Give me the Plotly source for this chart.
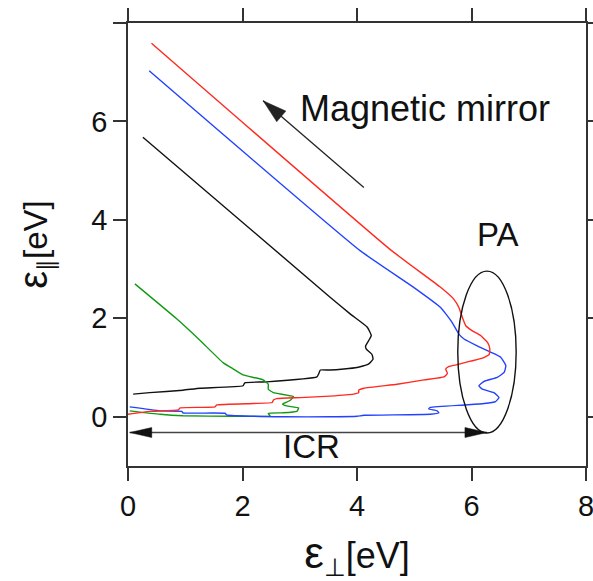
import math
import plotly.graph_objects as go

# Electron trajectories in (perpendicular, parallel) energy space, in eV
red_x = [0.41, 4.61, 5.46, 5.69, 5.78, 5.84, 5.90, 6.01, 6.16, 6.28, 6.32, 6.31, 6.19, 5.98, 5.75, 5.60, 5.55,
         5.58, 5.52, 5.17, 4.70, 4.12, 4.03, 4.03, 3.94, 3.53, 3.01, 2.60, 2.54, 2.52, 2.19, 1.55, 1.52, 0.91,
         0.88, 0.38, 0.0]
red_y = [7.59, 3.37, 2.63, 2.39, 2.22, 2.02, 1.85, 1.75, 1.65, 1.51, 1.38, 1.27, 1.19, 1.13, 1.06, 1.02, 0.97,
         0.88, 0.81, 0.75, 0.66, 0.58, 0.54, 0.49, 0.46, 0.42, 0.39, 0.37, 0.34, 0.29, 0.27, 0.24, 0.20, 0.18,
         0.14, 0.11, 0.05]

blue_x = [0.37, 4.06, 4.99, 5.46, 5.66, 5.78, 5.87, 6.10, 6.34, 6.51, 6.60, 6.57, 6.45, 6.22, 6.13, 6.19, 6.39,
          6.48, 6.42, 6.22, 5.87, 5.28, 5.25, 5.40, 5.43, 5.28, 4.12, 4.00, 3.53, 2.72, 1.72, 1.70, 0.96, 0.94,
          0.56, 0.03]
blue_y = [7.03, 3.37, 2.63, 2.22, 1.92, 1.68, 1.58, 1.44, 1.31, 1.21, 1.04, 0.90, 0.80, 0.72, 0.63, 0.56, 0.49,
          0.39, 0.31, 0.27, 0.24, 0.19, 0.16, 0.12, 0.08, 0.05, 0.03, 0.01, 0.0, 0.0, 0.04, 0.07, 0.08, 0.11,
          0.12, 0.20]

black_x = [0.26, 3.53, 3.88, 4.18, 4.25, 4.22, 4.15, 4.16, 4.26, 4.28, 4.20, 4.00, 3.77, 3.53, 3.36, 3.33, 3.30,
           2.42, 2.04, 2.01, 1.26, 0.96, 0.38, 0.09]
black_y = [5.68, 2.43, 2.09, 1.82, 1.65, 1.58, 1.44, 1.38, 1.27, 1.17, 1.07, 1.00, 0.97, 0.95, 0.95, 0.87, 0.81,
           0.71, 0.69, 0.63, 0.58, 0.54, 0.49, 0.46]

green_x = [0.12, 0.85, 1.26, 1.66, 1.84, 2.01, 2.36, 2.45, 2.45, 2.54, 2.89, 2.83, 2.70, 2.77, 2.98, 2.95, 2.69,
           2.45, 2.48, 1.84, 0.96, 0.56, 0.03]
green_y = [2.70, 1.99, 1.55, 1.10, 0.97, 0.85, 0.75, 0.66, 0.56, 0.49, 0.41, 0.33, 0.26, 0.22, 0.18, 0.11, 0.08,
           0.07, 0.02, 0.01, 0.02, 0.05, 0.12]

x_ticks = [0, 2, 4, 6, 8]
x_ticktext = ["0", "2", "4", "6", "8"]
y_ticks = [0, 2, 4, 6, 8]
y_ticktext = ["0", "2", "4", "6", ""]

X_RANGE = [0, 8]
Y_RANGE = [-1, 8]

# Figure geometry
W, H = 593, 581
M = dict(l=128, r=7, t=23, b=115)
SX = (W - M["l"] - M["r"]) / (X_RANGE[1] - X_RANGE[0])   # px per eV, horizontal
SY = (H - M["t"] - M["b"]) / (Y_RANGE[1] - Y_RANGE[0])   # px per eV, vertical

FONT = "Liberation Sans, Arial, Helvetica, sans-serif"
AXIS_COLOR = "#333333"

fig = go.Figure()

for xs, ys, col in [(black_x, black_y, "#111111"),
                    (green_x, green_y, "#129a12"),
                    (blue_x, blue_y, "#2342ff"),
                    (red_x, red_y, "#ff2a1f")]:
    fig.add_trace(go.Scatter(x=xs, y=ys, mode="lines",
                             line=dict(color=col, width=1.4, shape="spline", smoothing=0.4),
                             hoverinfo="skip", showlegend=False))


def arrow_head(tip, tail, length=22, half=6, color="#222222"):
    """Filled triangular head at `tip`, pointing away from `tail` (pixel-sized)."""
    dx = (tail[0] - tip[0]) * SX
    dy = (tail[1] - tip[1]) * SY
    n = math.hypot(dx, dy)
    ux, uy = dx / n, dy / n
    px, py = -uy, ux
    bx, by = ux * length, uy * length
    path = (f"M0,0 L{bx + px * half:.2f},{by + py * half:.2f} "
            f"L{bx - px * half:.2f},{by - py * half:.2f} Z")
    return dict(type="path", xref="x", yref="y", xsizemode="pixel", ysizemode="pixel",
                xanchor=tip[0], yanchor=tip[1], path=path,
                fillcolor=color, line=dict(color=color, width=0.5))


# Magnetic mirror arrow
mirror_tip = (2.36, 6.42)
mirror_tail = (4.12, 4.66)
# ICR double arrow
icr_left = (0.03, -0.32)
icr_right = (6.27, -0.32)
# Pitch-angle scattering region
pa_box = dict(x0=5.76, x1=6.78, y0=-0.33, y1=2.96)

shapes = [
    dict(type="line", xref="x", yref="y", x0=mirror_tail[0], y0=mirror_tail[1],
         x1=mirror_tip[0], y1=mirror_tip[1], line=dict(color="#222222", width=1.3)),
    arrow_head(mirror_tip, mirror_tail, length=24, half=7),
    dict(type="line", xref="x", yref="y", x0=icr_left[0], y0=icr_left[1],
         x1=icr_right[0], y1=icr_right[1], line=dict(color="#444444", width=1.5)),
    arrow_head(icr_left, icr_right, length=22, half=5, color="#111111"),
    arrow_head(icr_right, icr_left, length=22, half=5, color="#111111"),
    dict(type="circle", xref="x", yref="y", **pa_box, line=dict(color="#111111", width=1.4)),
]

annotations = [
    dict(x=2.97, y=6.27, xref="x", yref="y", text="Magnetic mirror", showarrow=False,
         xanchor="left", yanchor="middle", font=dict(family=FONT, size=36, color="#111111")),
    dict(x=6.46, y=3.70, xref="x", yref="y", text="PA", showarrow=False,
         xanchor="center", yanchor="middle", font=dict(family=FONT, size=33, color="#111111")),
    dict(x=3.21, y=-0.61, xref="x", yref="y", text="ICR", showarrow=False,
         xanchor="center", yanchor="middle", font=dict(family=FONT, size=33, color="#111111")),
]

axis_common = dict(showline=True, linecolor=AXIS_COLOR, linewidth=1.5, mirror="ticks",
                   ticks="outside", ticklen=13, tickwidth=1.5, tickcolor=AXIS_COLOR,
                   showgrid=False, zeroline=False, automargin=False, ticklabeloverflow="allow",
                   tickfont=dict(family=FONT, size=29, color="#111111"))

fig.update_layout(
    width=W, height=H, margin=M,
    paper_bgcolor="white", plot_bgcolor="white",
    shapes=shapes, annotations=annotations,
    xaxis=dict(range=X_RANGE, tickvals=x_ticks, ticktext=x_ticktext,
               title=dict(text="<span style='font-size:44px'>ε</span><sub>⊥</sub>[eV]",
                          font=dict(family=FONT, size=36, color="#111111"), standoff=27),
               **axis_common),
    yaxis=dict(range=Y_RANGE, tickvals=y_ticks, ticktext=y_ticktext,
               title=dict(text="<span style='font-size:40px'>ε</span><sub>∥</sub>[eV]",
                          font=dict(family=FONT, size=33, color="#111111"), standoff=34),
               **axis_common),
)

fig.write_html("out.html")
